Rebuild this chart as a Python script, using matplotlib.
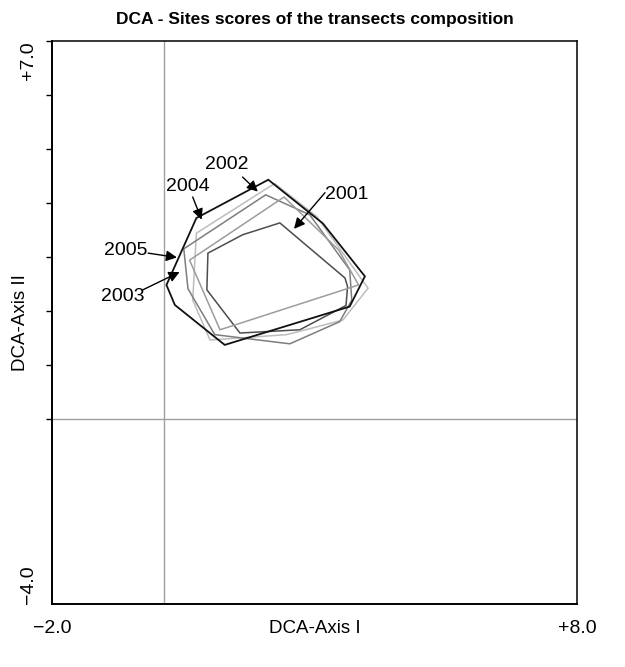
import matplotlib.pyplot as plt
from matplotlib import font_manager

# Site score hulls per year, in the DCA axes units (axis I, axis II)
years = ["2001", "2002", "2003", "2004", "2005"]
hull_2001_x = [2.21, 1.50, 0.84, 0.82, 1.45, 2.59, 3.47, 3.50, 3.45]
hull_2001_y = [3.63, 3.41, 3.07, 2.39, 1.59, 1.65, 2.10, 2.45, 2.61]
hull_2002_x = [2.11, 2.91, 3.89, 3.41, 2.34, 0.88, 0.55, 0.62]
hull_2002_y = [4.36, 3.75, 2.42, 1.83, 1.56, 1.46, 2.20, 3.44]
hull_2003_x = [1.94, 2.78, 3.54, 3.58, 3.35, 2.40, 0.97, 0.46, 0.38]
hull_2003_y = [4.15, 3.78, 2.76, 2.20, 1.80, 1.39, 1.56, 2.41, 3.15]
hull_2004_x = [1.99, 3.03, 3.83, 3.54, 1.16, 0.21, 0.05, 0.62]
hull_2004_y = [4.43, 3.62, 2.64, 2.08, 1.37, 2.11, 2.48, 3.72]
hull_2005_x = [2.29, 3.33, 3.71, 1.07, 0.49]
hull_2005_y = [4.11, 3.13, 2.48, 1.65, 2.94]

axis_x_labels = ["\u22122.0", "+8.0"]
axis_y_labels = ["\u22124.0", "+7.0"]

hulls = {
    "2001": (hull_2001_x, hull_2001_y, "#4d4d4d", 1.1),
    "2002": (hull_2002_x, hull_2002_y, "#bdbdbd", 1.1),
    "2003": (hull_2003_x, hull_2003_y, "#7d7d7d", 1.1),
    "2004": (hull_2004_x, hull_2004_y, "#111111", 1.3),
    "2005": (hull_2005_x, hull_2005_y, "#9c9c9c", 1.1),
}

# label position, arrow start, arrow tip (data units)
annots = {
    "2002": ((1.20, 4.72), (1.50, 4.48), (1.79, 4.21)),
    "2004": ((0.45, 4.30), (0.55, 4.11), (0.72, 3.69)),
    "2001": ((3.49, 4.15), (3.07, 4.19), (2.48, 3.52)),
    "2005": ((-0.72, 3.12), (-0.30, 3.07), (0.25, 2.99)),
    "2003": ((-0.78, 2.27), (-0.40, 2.39), (0.30, 2.72)),
}

names = [f.name for f in font_manager.fontManager.ttflist]
narrow = "Liberation Sans Narrow" if "Liberation Sans Narrow" in names else "Liberation Sans"
plt.rcParams["font.family"] = [narrow, "DejaVu Sans"]

fig = plt.figure(figsize=(6.25, 6.67), dpi=100)
ax = fig.add_axes([0.0832, 0.0945, 0.84, 0.844])

ax.set_xlim(-2.13, 7.87)
ax.set_ylim(-3.43, 7.0)

ax.axvline(0, color="#a0a0a0", lw=1.0, zorder=1)
ax.axhline(0, color="#a0a0a0", lw=1.0, zorder=1)

for yr in years:
    xs, ys, col, lw = hulls[yr]
    ax.fill(xs, ys, facecolor="none", edgecolor=col, lw=lw, zorder=3 if yr == "2004" else 2)

for yr, (txt_pos, start, tip) in annots.items():
    ax.text(txt_pos[0], txt_pos[1], yr, fontsize=14, ha="center", va="center")
    ax.annotate("", xy=tip, xytext=start,
                arrowprops=dict(arrowstyle="-|>", color="black", lw=1.0,
                                mutation_scale=16, shrinkA=0, shrinkB=0))

# spines and ticks
for s in ["left", "bottom"]:
    ax.spines[s].set_linewidth(1.4)
for s in ["top", "right"]:
    ax.spines[s].set_linewidth(1.1)
ax.set_xticks([])
ax.set_yticks(list(range(0, 8)))
ax.set_yticklabels([])
ax.tick_params(axis="y", direction="out", length=4, width=1)

ax.text(-0.045, 1.0, axis_y_labels[1], transform=ax.transAxes, rotation=90,
        ha="center", va="top", fontsize=14)
ax.text(-0.045, 0.0, axis_y_labels[0], transform=ax.transAxes, rotation=90,
        ha="center", va="bottom", fontsize=14)
ax.text(0.0, -0.028, axis_x_labels[0], transform=ax.transAxes,
        ha="center", va="top", fontsize=14)
ax.text(1.0, -0.028, axis_x_labels[1], transform=ax.transAxes,
        ha="center", va="top", fontsize=14)
ax.text(0.5, -0.028, "DCA-Axis I", transform=ax.transAxes,
        ha="center", va="top", fontsize=13.5)
ax.text(-0.06, 0.5, "DCA-Axis II", transform=ax.transAxes, rotation=90,
        ha="center", va="center", fontsize=13.5)

ax.set_title("DCA - Sites scores of the transects composition",
             fontsize=12.5, fontweight="bold", pad=12)

fig.savefig("out.png", dpi=100)
